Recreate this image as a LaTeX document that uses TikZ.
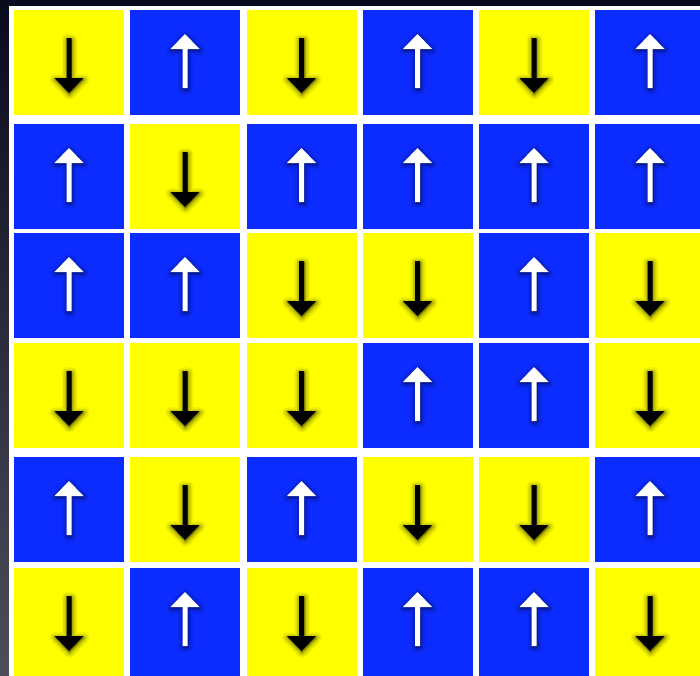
\documentclass[tikz,border=0pt]{standalone}
\definecolor{spinyellow}{RGB}{255,255,0}
\definecolor{spinblue}{RGB}{12,44,255}
\definecolor{bgtop}{RGB}{10,10,30}
\definecolor{bgbot}{RGB}{78,78,90}
\tikzset{
  cellbox/.style={minimum width=110pt, minimum height=105pt, inner sep=0pt, outer sep=0pt, draw=none, anchor=north},
  upcell/.style={cellbox, fill=spinblue},
  downcell/.style={cellbox, fill=spinyellow},
  lastrow/.style={minimum height=112pt},
  glow/.style={fill=black, draw=black, line join=round, shift={(0.5,1.5)}}
}
\newcommand\uparrowshape{(0,24) -- (14.5,39) -- (2.5,39) -- (2.5,78) -- (-2.5,78) -- (-2.5,39) -- (-14.5,39) -- cycle}
\newcommand\downarrowshape{(-2.5,28) -- (2.5,28) -- (2.5,68) -- (14.5,68) -- (0,83) -- (-14.5,68) -- (-2.5,68) -- cycle}
\newcommand\spinU[4][]{%
  \node[upcell,#1] (#2) at (#3,#4) {};
  \begin{scope}[shift={(#2.north)}]
    \foreach \w/\o in {11/0.04,8/0.06,5/0.08,2.5/0.1}{\path[glow,line width=\w pt,opacity=\o] \uparrowshape;}
    \fill[white] \uparrowshape;
  \end{scope}}
\newcommand\spinD[4][]{%
  \node[downcell,#1] (#2) at (#3,#4) {};
  \begin{scope}[shift={(#2.north)}]
    \foreach \w/\o in {11/0.05,8/0.07,5/0.09,2.5/0.12}{\path[glow,line width=\w pt,opacity=\o] \downarrowshape;}
    \fill[black] \downarrowshape;
  \end{scope}}
\begin{document}
\begin{tikzpicture}[x=1pt,y=-1pt]
\useasboundingbox (0,0) rectangle (700,675);
\clip (0,0) rectangle (700,675);
\shade[top color=bgtop, bottom color=bgbot] (0,0) rectangle (9,675);
\fill[bgtop] (0,0) rectangle (700,6);
\fill[white] (9,6) rectangle (700,675);
% row 1
\spinD{c11}{69}{10}
\spinU{c12}{185}{10}
\spinD{c13}{301.5}{10}
\spinU{c14}{417.5}{10}
\spinD{c15}{534}{10}
\spinU{c16}{650}{10}
% row 2
\spinU{c21}{69}{124}
\spinD{c22}{185}{124}
\spinU{c23}{301.5}{124}
\spinU{c24}{417.5}{124}
\spinU{c25}{534}{124}
\spinU{c26}{650}{124}
% row 3
\spinU{c31}{69}{233}
\spinU{c32}{185}{233}
\spinD{c33}{301.5}{233}
\spinD{c34}{417.5}{233}
\spinU{c35}{534}{233}
\spinD{c36}{650}{233}
% row 4
\spinD{c41}{69}{343}
\spinD{c42}{185}{343}
\spinD{c43}{301.5}{343}
\spinU{c44}{417.5}{343}
\spinU{c45}{534}{343}
\spinD{c46}{650}{343}
% row 5
\spinU{c51}{69}{457}
\spinD{c52}{185}{457}
\spinU{c53}{301.5}{457}
\spinD{c54}{417.5}{457}
\spinD{c55}{534}{457}
\spinU{c56}{650}{457}
% row 6
\spinD[lastrow]{c61}{69}{568}
\spinU[lastrow]{c62}{185}{568}
\spinD[lastrow]{c63}{301.5}{568}
\spinU[lastrow]{c64}{417.5}{568}
\spinU[lastrow]{c65}{534}{568}
\spinD[lastrow]{c66}{650}{568}
\end{tikzpicture}
\end{document}
